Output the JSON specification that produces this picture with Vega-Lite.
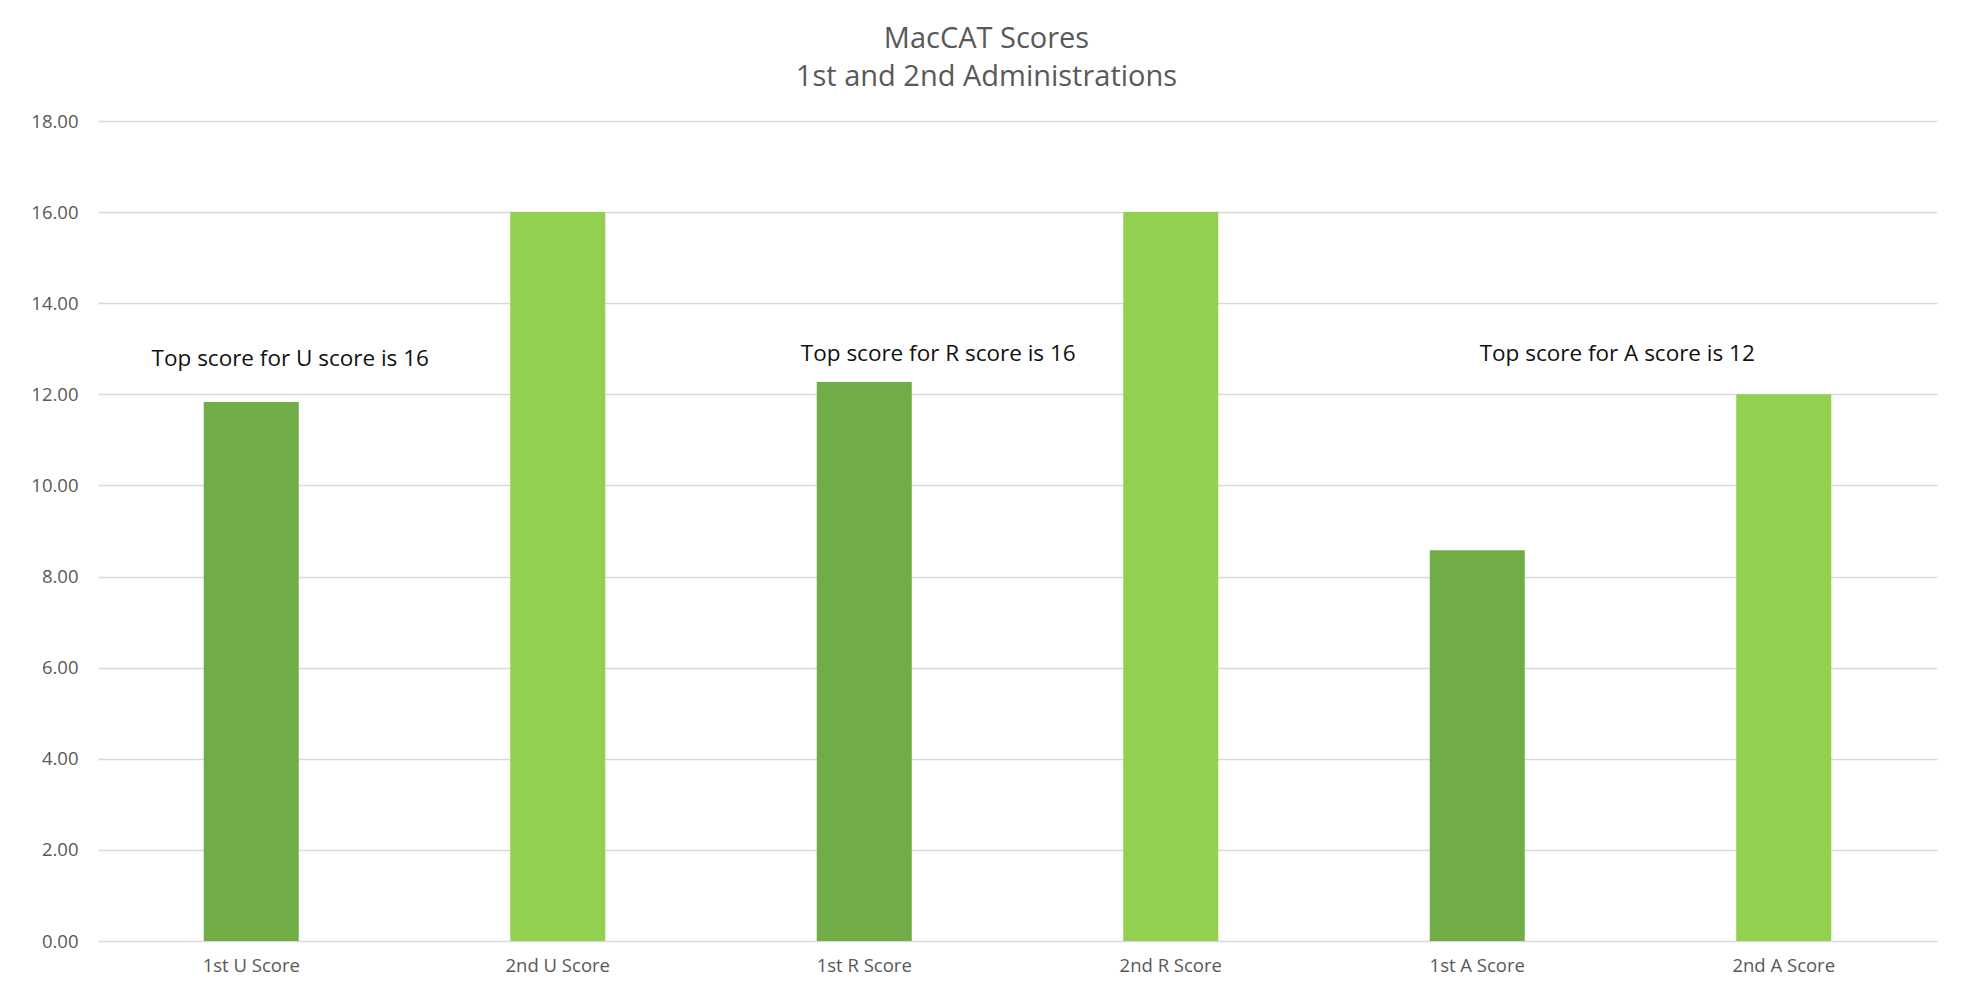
{
  "$schema": "https://vega.github.io/schema/vega-lite/v6.json",
  "width": 1839,
  "height": 820,
  "autosize": {"type": "none"},
  "padding": {"left": 98, "top": 121, "right": 25, "bottom": 47},
  "background": "white",
  "title": {
    "text": ["MacCAT Scores", "1st and 2nd Administrations"],
    "fontSize": 29,
    "font": "Open Sans",
    "fontWeight": "normal",
    "color": "#595959",
    "anchor": "middle",
    "dx": -31,
    "offset": 20,
    "lineHeight": 38
  },
  "config": {
    "view": {"stroke": null},
    "font": "Open Sans"
  },
  "layer": [
    {
      "data": {
        "values": [
          {"measure": "1st U Score", "score": 11.83, "admin": "1st"},
          {"measure": "2nd U Score", "score": 16.0, "admin": "2nd"},
          {"measure": "1st R Score", "score": 12.27, "admin": "1st"},
          {"measure": "2nd R Score", "score": 16.0, "admin": "2nd"},
          {"measure": "1st A Score", "score": 8.58, "admin": "1st"},
          {"measure": "2nd A Score", "score": 12.0, "admin": "2nd"}
        ]
      },
      "mark": {"type": "bar"},
      "encoding": {
        "x": {
          "field": "measure",
          "type": "nominal",
          "sort": null,
          "scale": {"paddingInner": 0.69, "paddingOuter": 0.345},
          "axis": {
            "title": null,
            "labelAngle": 0,
            "labelFontSize": 18.5,
            "labelColor": "#595959",
            "labelPadding": 15,
            "ticks": false,
            "domain": false
          }
        },
        "y": {
          "field": "score",
          "type": "quantitative",
          "scale": {"domain": [0, 18]},
          "axis": {
            "title": null,
            "values": [0, 2, 4, 6, 8, 10, 12, 14, 16, 18],
            "format": ".2f",
            "labelFontSize": 18.5,
            "labelColor": "#595959",
            "labelPadding": 20,
            "ticks": false,
            "domain": false,
            "gridColor": "#D9D9D9",
            "gridWidth": 1.3
          }
        },
        "color": {
          "field": "admin",
          "type": "nominal",
          "scale": {"domain": ["1st", "2nd"], "range": ["#70AD47", "#92D050"]},
          "legend": null
        }
      }
    },
    {
      "data": {"values": [{"measure": "1st U Score", "y": 12.77, "label": "Top score for U score is 16"}]},
      "mark": {"type": "text", "fontSize": 22.5, "color": "#111111", "dx": 39, "baseline": "middle"},
      "encoding": {
        "x": {"field": "measure", "type": "nominal", "sort": null},
        "y": {"field": "y", "type": "quantitative"},
        "text": {"field": "label"}
      }
    },
    {
      "data": {"values": [{"measure": "1st R Score", "y": 12.88, "label": "Top score for R score is 16"}]},
      "mark": {"type": "text", "fontSize": 22.5, "color": "#111111", "dx": 74, "baseline": "middle"},
      "encoding": {
        "x": {"field": "measure", "type": "nominal", "sort": null},
        "y": {"field": "y", "type": "quantitative"},
        "text": {"field": "label"}
      }
    },
    {
      "data": {"values": [{"measure": "1st A Score", "y": 12.88, "label": "Top score for A score is 12"}]},
      "mark": {"type": "text", "fontSize": 22.5, "color": "#111111", "dx": 140, "baseline": "middle"},
      "encoding": {
        "x": {"field": "measure", "type": "nominal", "sort": null},
        "y": {"field": "y", "type": "quantitative"},
        "text": {"field": "label"}
      }
    }
  ]
}
